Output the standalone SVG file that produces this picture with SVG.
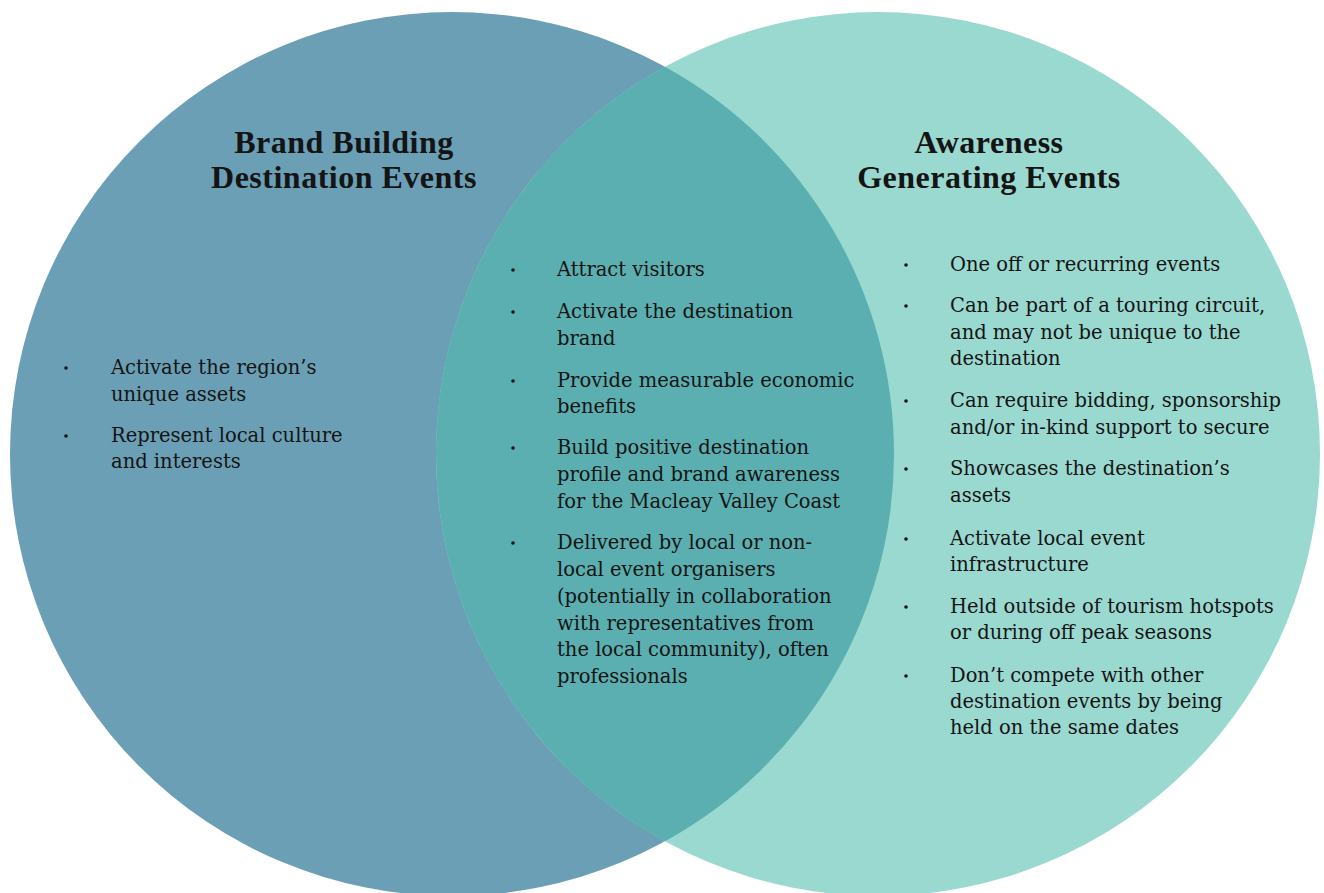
<svg xmlns="http://www.w3.org/2000/svg" width="1324" height="893" viewBox="0 0 1324 893">
  <style>
    .head { font-family: "Liberation Serif", "DejaVu Serif", serif; font-weight: bold; font-size: 32px; letter-spacing: 0.5px; fill: #141414; text-anchor: middle; }
    .body { font-family: "DejaVu Serif", "Liberation Serif", serif; font-size: 19.5px; fill: #141414; }
    .dot { fill: #141414; }
  </style>
  <rect width="1324" height="893" fill="#ffffff"/>

  <!-- circles -->
  <g id="circle-brand">
    <circle cx="452" cy="454" r="442" fill="#6a9fb5"/>
  </g>
  <g id="circle-awareness">
    <circle cx="878" cy="454" r="442" fill="#9ad9d0"/>
  </g>
  <g id="overlap">
    <path d="M 665 66.7 A 442 442 0 0 1 665 841.3 A 442 442 0 0 1 665 66.7 Z" fill="#5bafb0"/>
  </g>

  <!-- left: brand building -->
  <g id="brand-text">
    <text class="head" x="344" y="153">Brand Building</text>
    <text class="head" x="344" y="188">Destination Events</text>
    <circle class="dot" cx="66" cy="368" r="1.8"/>
    <text class="body" x="111" y="374">Activate the region’s</text>
    <text class="body" x="111" y="401">unique assets</text>
    <circle class="dot" cx="66" cy="436" r="1.8"/>
    <text class="body" x="111" y="442">Represent local culture</text>
    <text class="body" x="111" y="468">and interests</text>
  </g>

  <!-- centre: shared -->
  <g id="shared-text">
    <circle class="dot" cx="513" cy="270" r="1.8"/>
    <text class="body" x="557" y="276">Attract visitors</text>
    <circle class="dot" cx="513" cy="312" r="1.8"/>
    <text class="body" x="557" y="318">Activate the destination</text>
    <text class="body" x="557" y="345">brand</text>
    <circle class="dot" cx="513" cy="381" r="1.8"/>
    <text class="body" x="557" y="387">Provide measurable economic</text>
    <text class="body" x="557" y="413">benefits</text>
    <circle class="dot" cx="513" cy="448" r="1.8"/>
    <text class="body" x="557" y="454">Build positive destination</text>
    <text class="body" x="557" y="481">profile and brand awareness</text>
    <text class="body" x="557" y="508">for the Macleay Valley Coast</text>
    <circle class="dot" cx="513" cy="543" r="1.8"/>
    <text class="body" x="557" y="549">Delivered by local or non-</text>
    <text class="body" x="557" y="576">local event organisers</text>
    <text class="body" x="557" y="603">(potentially in collaboration</text>
    <text class="body" x="557" y="630">with representatives from</text>
    <text class="body" x="557" y="656">the local community), often</text>
    <text class="body" x="557" y="683">professionals</text>
  </g>

  <!-- right: awareness generating -->
  <g id="awareness-text">
    <text class="head" x="989" y="153">Awareness</text>
    <text class="head" x="989" y="188">Generating Events</text>
    <circle class="dot" cx="906" cy="265" r="1.8"/>
    <text class="body" x="950" y="271">One off or recurring events</text>
    <circle class="dot" cx="906" cy="306" r="1.8"/>
    <text class="body" x="950" y="312">Can be part of a touring circuit,</text>
    <text class="body" x="950" y="339">and may not be unique to the</text>
    <text class="body" x="950" y="365">destination</text>
    <circle class="dot" cx="906" cy="401" r="1.8"/>
    <text class="body" x="950" y="407">Can require bidding, sponsorship</text>
    <text class="body" x="950" y="434">and/or in-kind support to secure</text>
    <circle class="dot" cx="906" cy="469" r="1.8"/>
    <text class="body" x="950" y="475">Showcases the destination’s</text>
    <text class="body" x="950" y="502">assets</text>
    <circle class="dot" cx="906" cy="539" r="1.8"/>
    <text class="body" x="950" y="545">Activate local event</text>
    <text class="body" x="950" y="571">infrastructure</text>
    <circle class="dot" cx="906" cy="607" r="1.8"/>
    <text class="body" x="950" y="613">Held outside of tourism hotspots</text>
    <text class="body" x="950" y="639">or during off peak seasons</text>
    <circle class="dot" cx="906" cy="676" r="1.8"/>
    <text class="body" x="950" y="682">Don’t compete with other</text>
    <text class="body" x="950" y="708">destination events by being</text>
    <text class="body" x="950" y="734">held on the same dates</text>
  </g>
</svg>
